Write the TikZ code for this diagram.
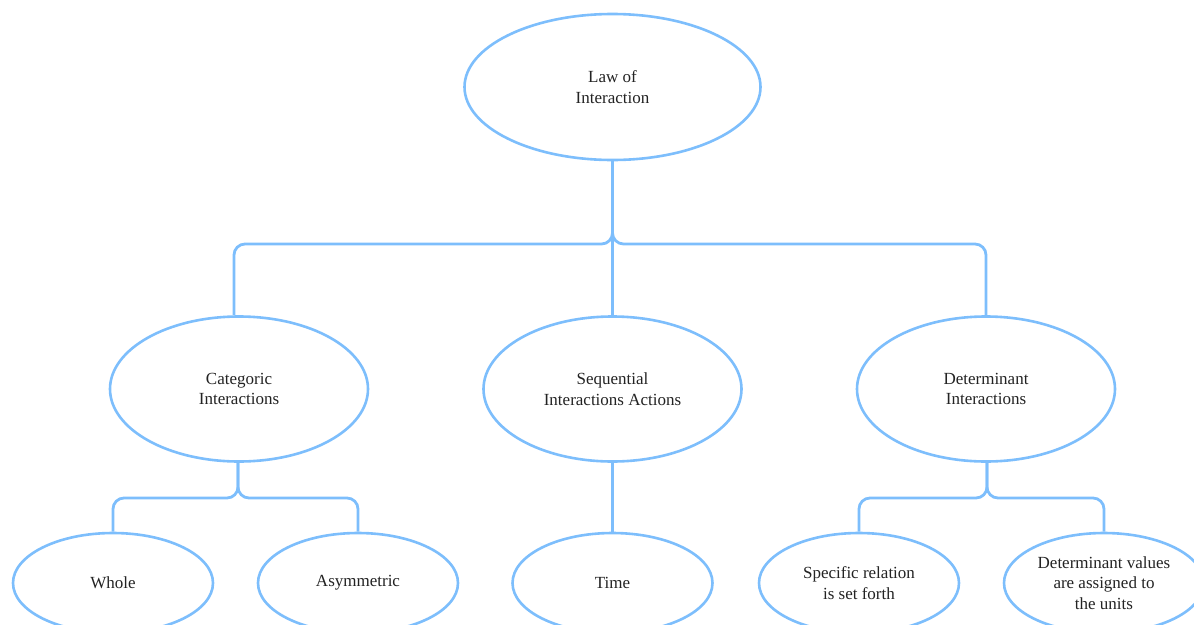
\documentclass[tikz,border=0pt]{standalone}
\usepackage{fontspec}
\setmainfont{Liberation Serif}
\usetikzlibrary{shapes.geometric}
\definecolor{linkblue}{RGB}{125,190,252}
\definecolor{inkgray}{RGB}{35,35,35}
\tikzset{
  oval/.style={ellipse, draw=linkblue, line width=2.6pt, fill=white, inner sep=0pt,
    text=inkgray, align=center, font=\fontsize{17}{20.5}\selectfont},
  bigoval/.style={oval, minimum width=296pt, minimum height=146pt},
  midoval/.style={oval, minimum width=258pt, minimum height=145pt},
  smalloval/.style={oval, minimum width=200pt, minimum height=100pt},
  conn/.style={draw=linkblue, line width=2.8pt, rounded corners=11pt},
}
\begin{document}
\begin{tikzpicture}[x=1pt, y=-1pt]
  \useasboundingbox (0,0) rectangle (1194,624);
  \clip (0,0) rectangle (1194,624);

  % ovals
  \node[bigoval] (law) at (612.5,87) {Law of\\Interaction};
  \node[midoval] (cat) at (239,389) {Categoric\\Interactions};
  \node[midoval] (seq) at (612.5,389) {Sequential\\Interactions Actions};
  \node[midoval] (det) at (986,389) {Determinant\\Interactions};
  \node[smalloval] (whole) at (113,583) {Whole};
  \node[smalloval] (asym) at (358,583) {Asymmetric};
  \node[smalloval] (time) at (612.5,583) {Time};
  \node[smalloval] (spec) at (859,583) {Specific relation\\is set forth};
  \node[smalloval] (vals) at (1104,583) {Determinant values\\are assigned to\\the units};

  % junction points of the branches
  \coordinate (j1) at (612.5,244);
  \coordinate (j2) at (238,498);
  \coordinate (j3) at (987,498);
  \coordinate (catin) at (234,300);

  % connectors between the ovals
  \draw[conn] (law) -- (j1) -| (catin) -- (catin |- cat.north);
  \draw[conn] (law) -- (j1) -| (det);
  \draw[conn] (law) -- (seq);
  \draw[conn] (cat.south -| j2) -- (j2) -| (whole);
  \draw[conn] (cat.south -| j2) -- (j2) -| (asym);
  \draw[conn] (seq) -- (time);
  \draw[conn] (det.south -| j3) -- (j3) -| (spec);
  \draw[conn] (det.south -| j3) -- (j3) -| (vals);
\end{tikzpicture}
\end{document}
